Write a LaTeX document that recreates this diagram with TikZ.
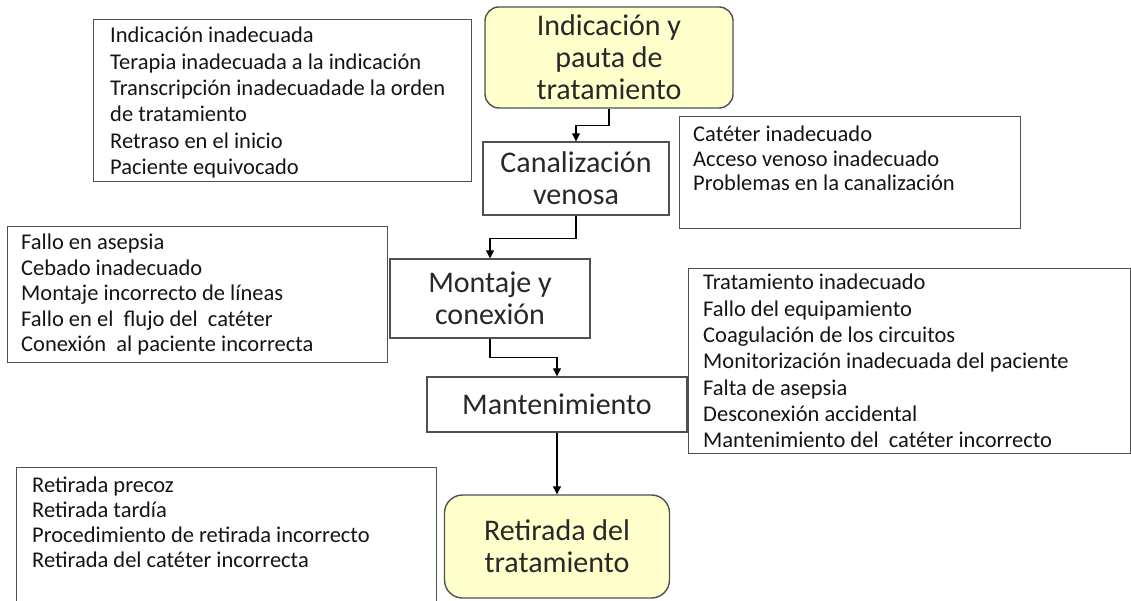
\documentclass[tikz,border=0pt]{standalone}
\usepackage{fontspec}
\setmainfont{Carlito}
\usetikzlibrary{arrows.meta}
\definecolor{boxline}{RGB}{80,80,80}
\definecolor{notefill}{RGB}{255,255,204}
\definecolor{txt}{RGB}{20,20,20}
\definecolor{maintxt}{RGB}{40,40,40}
\begin{document}
\begin{tikzpicture}[x=1pt,y=-1pt,
  mainbox/.style={draw=boxline, line width=1.4pt, fill=white, inner sep=0pt, align=center, text=maintxt, font=\fontsize{30}{32}\selectfont},
  roundbox/.style={mainbox, fill=notefill, rounded corners=14pt},
  notebox/.style={draw=boxline, line width=1.4pt, inner sep=0pt, anchor=north west},
  notetext/.style={anchor=base west, inner sep=0pt, text=txt, font=\fontsize{22.5}{26.3}\selectfont},
  conn/.style={draw=black, line width=1.2pt, -{Triangle[length=8pt,width=8pt]}}
]
\useasboundingbox (0,0) rectangle (1131,601);

% main flow
\node[roundbox, minimum width=248pt, minimum height=101pt] (ind) at (609,57.5) {Indicación y\\pauta de\\tratamiento};
\node[mainbox, minimum width=186pt, minimum height=73pt] (can) at (576,178.5) {Canalización\\venosa};
\node[mainbox, minimum width=200pt, minimum height=79pt] (mon) at (490,298.5) {Montaje y\\conexión};
\node[mainbox, minimum width=260pt, minimum height=55pt] (man) at (557,404.5) {Mantenimiento};
\node[roundbox, minimum width=225pt, minimum height=103pt, rounded corners=18pt] (ret) at (557,546.5) {Retirada del\\tratamiento};

\draw[conn] (ind.south) -- ++(0,17) -| (can.north);
\draw[conn] (can.south) -- ++(0,23) -| (mon.north);
\draw[conn] (mon.south) -- ++(0,19) -| (man.north);
\draw[conn] (man.south) -- (ret.north);

% note boxes
\node[notebox, minimum width=378pt, minimum height=162pt] (tlbox) at (93,19) {};
\node[notetext] (tltext) at (110,43) {\begin{tabular}[t]{@{}l@{}}Indicación inadecuada\\Terapia inadecuada a la indicación\\Transcripción inadecuadade la orden\\de tratamiento\\Retraso en el inicio\\Paciente equivocado\end{tabular}};

\node[notebox, minimum width=341pt, minimum height=112pt] (catbox) at (679,116) {};
\node[notetext, font=\fontsize{22.5}{24.5}\selectfont] (cattext) at (693,142) {\begin{tabular}[t]{@{}l@{}}Catéter inadecuado\\Acceso venoso inadecuado\\Problemas en la canalización\end{tabular}};

\node[notebox, minimum width=380pt, minimum height=136pt] (falbox) at (7,226) {};
\node[notetext, font=\fontsize{22.5}{25.5}\selectfont] (faltext) at (21,250) {\begin{tabular}[t]{@{}l@{}}Fallo en asepsia\\Cebado inadecuado\\Montaje incorrecto de líneas\\Fallo en el\ \ flujo del\ \ catéter\\Conexión\ \ al paciente incorrecta\end{tabular}};

\node[notebox, minimum width=442pt, minimum height=185pt] (trabox) at (688,268) {};
\node[notetext] (tratext) at (703,290) {\begin{tabular}[t]{@{}l@{}}Tratamiento inadecuado\\Fallo del equipamiento\\Coagulación de los circuitos\\Monitorización inadecuada del paciente\\Falta de asepsia\\Desconexión accidental\\Mantenimiento del\ \ catéter incorrecto\end{tabular}};

\node[notebox, minimum width=420pt, minimum height=160pt] (retbox) at (16,467) {};
\node[notetext, font=\fontsize{22.5}{25}\selectfont] (rettext) at (32,492) {\begin{tabular}[t]{@{}l@{}}Retirada precoz\\Retirada tardía\\Procedimiento de retirada incorrecto\\Retirada del catéter incorrecta\end{tabular}};
\end{tikzpicture}
\end{document}
